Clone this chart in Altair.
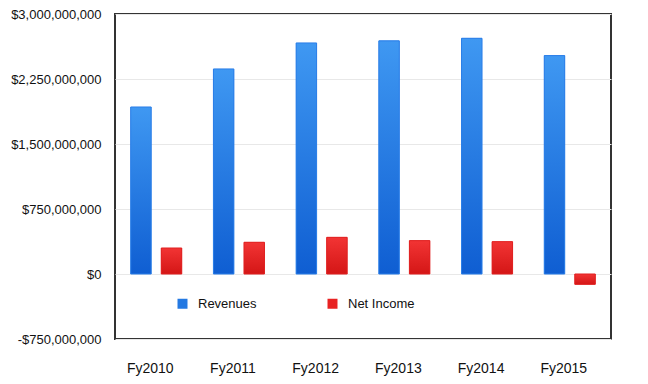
import altair as alt
import pandas as pd

years = ["Fy2010", "Fy2011", "Fy2012", "Fy2013", "Fy2014", "Fy2015"]
revenues = [1927e6, 2366e6, 2666e6, 2690e6, 2720e6, 2520e6]
net_income = [300e6, 366e6, 423e6, 385e6, 373e6, -119e6]
series = ["Revenues", "Net Income"]
y_ticks = [-750e6, 0, 750e6, 1500e6, 2250e6, 3000e6]

rows = []
for i, yr in enumerate(years):
    rows.append({"year": yr, "series": "Revenues", "value": revenues[i]})
    rows.append({"year": yr, "series": "Net Income", "value": net_income[i]})
df = pd.DataFrame(rows)

FONT = "Liberation Sans"

x_enc = alt.X("year:N", sort=years, title=None,
              scale=alt.Scale(paddingInner=0.383, paddingOuter=0.19),
              axis=alt.Axis(labelAngle=0, domain=False, ticks=False, grid=False,
                            labelPadding=22, labelFontSize=14, labelColor="#111",
                            labelFont=FONT, labelOffset=-6))
xo_enc = alt.XOffset("series:N", sort=series,
                     scale=alt.Scale(domain=series, paddingInner=0.33, paddingOuter=0))
y_enc = alt.Y("value:Q", title=None,
              scale=alt.Scale(domain=[-750e6, 3000e6], nice=False, zero=False),
              axis=alt.Axis(values=y_ticks, domain=False, ticks=False, labelPadding=14,
                            labelFontSize=13, labelColor="#111", labelFont=FONT,
                            gridColor="#e8e8e8", gridWidth=1,
                            labelExpr="datum.value < 0 ? '-$' + format(-datum.value, ',') : '$' + format(datum.value, ',')"))

base = alt.Chart(df).mark_bar().encode(
    x=x_enc, xOffset=xo_enc, y=y_enc,
    color=alt.Color("series:N", sort=series,
                    scale=alt.Scale(domain=series, range=["#2479e2", "#e82222"]),
                    legend=alt.Legend(title=None, orient="none", legendX=61, legendY=283,
                                      direction="horizontal", symbolType="square",
                                      symbolSize=100, symbolStrokeWidth=0,
                                      labelFontSize=13, labelFont=FONT, labelColor="#111",
                                      labelOffset=9, columnPadding=69, padding=0)),
)

blue_grad = {"gradient": "linear", "x1": 0, "y1": 0, "x2": 0, "y2": 1,
             "stops": [{"offset": 0, "color": "#3f98f2"}, {"offset": 1, "color": "#0f5ed2"}]}
red_grad = {"gradient": "linear", "x1": 0, "y1": 0, "x2": 0, "y2": 1,
            "stops": [{"offset": 0, "color": "#f23434"}, {"offset": 1, "color": "#d41616"}]}

blue = alt.Chart(df).transform_filter(alt.datum.series == "Revenues").mark_bar(
    fill=blue_grad, stroke="#2a7ee8", strokeWidth=1).encode(x=x_enc, xOffset=xo_enc, y=y_enc)
red = alt.Chart(df).transform_filter(alt.datum.series == "Net Income").mark_bar(
    fill=red_grad, stroke="#e02020", strokeWidth=1).encode(x=x_enc, xOffset=xo_enc, y=y_enc)

chart = alt.layer(base, blue, red).properties(
    width=496, height=325,
    padding={"left": 2, "top": 0, "right": 5, "bottom": 5},
    background="white",
).configure_view(stroke="#333333", strokeWidth=2)

chart.save("out.html", embed_options={"renderer": "svg", "actions": False})
